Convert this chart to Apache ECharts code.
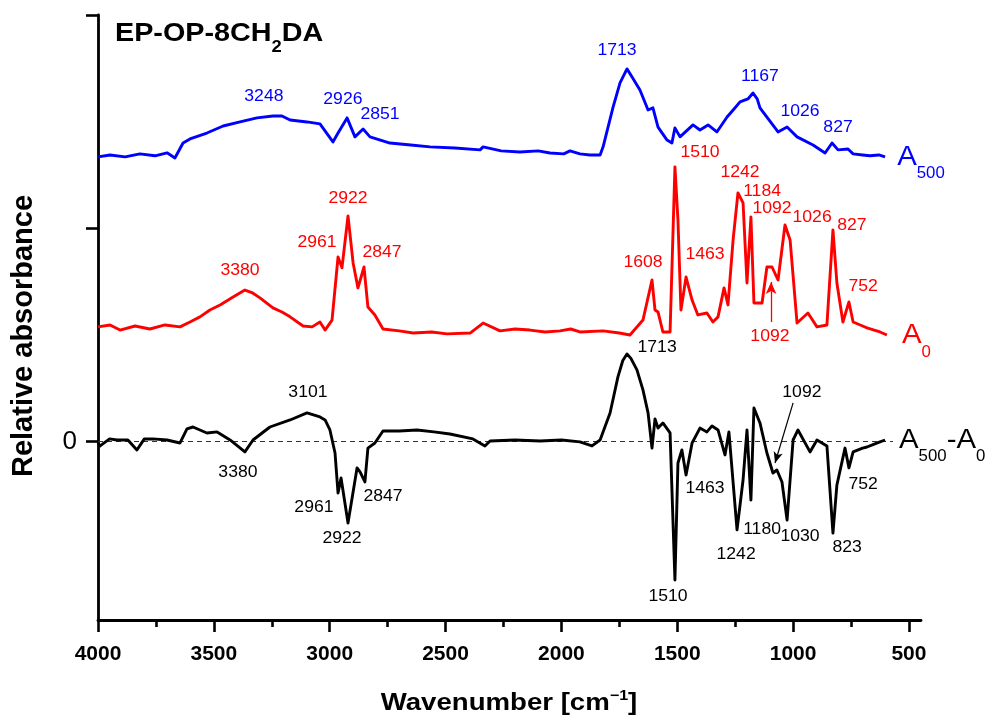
<!DOCTYPE html>
<html>
<head>
<meta charset="utf-8">
<script src="https://cdn.jsdelivr.net/npm/echarts@6/dist/echarts.min.js"></script>
<style>
  html, body { margin: 0; padding: 0; background: #fff; }
  #chart { width: 988px; height: 717px; }
</style>
</head>
<body>
<div id="chart"></div>
<script>
// ---------------- DATA ----------------
const xMajorTicks = [4000, 3500, 3000, 2500, 2000, 1500, 1000, 500];
const xMinorTicks = [3750, 3250, 2750, 2250, 1750, 1250, 750];
const yTicks = [0, 1, 2];
const yLabels = [0];

// A500 (blue)
const wnA500 = [4000,3948,3883,3819,3754,3702,3668,3633,3603,3530,3460,3387,3314,3245,3206,3171,3098,3042,2986,2964,2925,2891,2856,2826,2740,2650,2567,2460,2351,2338,2260,2179,2100,2049,1990,1963,1920,1877,1833,1820,1777,1747,1717,1695,1661,1626,1605,1583,1544,1523,1510,1488,1432,1402,1367,1329,1285,1255,1229,1195,1173,1155,1143,1113,1065,1026,983,914,862,832,806,763,741,700,668,630,603];
const absA500 = [1.336,1.345,1.336,1.350,1.341,1.355,1.331,1.401,1.420,1.448,1.481,1.500,1.519,1.528,1.528,1.509,1.500,1.491,1.406,1.448,1.519,1.430,1.467,1.430,1.401,1.392,1.383,1.378,1.369,1.383,1.364,1.359,1.364,1.354,1.350,1.364,1.350,1.345,1.345,1.383,1.570,1.683,1.749,1.711,1.650,1.556,1.566,1.476,1.415,1.401,1.472,1.430,1.486,1.462,1.486,1.453,1.523,1.561,1.594,1.608,1.636,1.608,1.566,1.523,1.453,1.476,1.430,1.392,1.354,1.401,1.369,1.373,1.350,1.345,1.341,1.345,1.336];

// A0 (red)
const wnA0 = [4000,3948,3905,3840,3776,3711,3646,3603,3560,3517,3473,3417,3366,3336,3301,3245,3206,3171,3115,3076,3042,3020,2990,2964,2947,2921,2899,2878,2852,2835,2805,2770,2700,2640,2560,2494,2394,2338,2265,2200,2136,2070,2006,1960,1920,1820,1750,1704,1648,1609,1596,1583,1562,1531,1510,1497,1484,1462,1436,1411,1372,1346,1324,1298,1281,1259,1238,1216,1199,1182,1169,1134,1113,1091,1065,1035,1013,983,936,897,854,828,811,785,759,741,700,681,650,625,595];
const absA0 = [0.538,0.547,0.523,0.542,0.528,0.547,0.538,0.561,0.585,0.617,0.641,0.678,0.711,0.699,0.674,0.627,0.608,0.585,0.542,0.538,0.561,0.523,0.570,0.866,0.815,1.059,0.838,0.721,0.819,0.631,0.594,0.528,0.519,0.509,0.514,0.505,0.509,0.556,0.519,0.528,0.523,0.514,0.519,0.528,0.514,0.519,0.509,0.500,0.570,0.758,0.617,0.608,0.514,0.514,1.289,1.040,0.617,0.772,0.664,0.594,0.603,0.561,0.585,0.721,0.641,0.946,1.167,1.120,0.744,1.054,0.650,0.650,0.819,0.819,0.758,1.016,0.946,0.556,0.603,0.538,0.547,0.993,0.744,0.561,0.655,0.561,0.542,0.533,0.523,0.514,0.500];

// A500 - A0 (black)
const wnDiff = [4000,3991,3950,3918,3871,3832,3800,3763,3702,3646,3616,3590,3530,3486,3430,3366,3331,3258,3171,3098,3042,3020,2999,2977,2964,2951,2921,2882,2869,2848,2835,2805,2770,2700,2623,2550,2481,2382,2330,2308,2200,2092,2000,1920,1868,1833,1790,1756,1735,1717,1700,1674,1648,1626,1609,1596,1583,1562,1531,1510,1497,1480,1462,1436,1402,1372,1350,1324,1294,1277,1242,1216,1199,1182,1169,1143,1113,1087,1070,1048,1026,1000,979,927,897,854,828,811,776,759,741,700,681,650,625,603];
const absDiff = [-0.007,-0.021,0.012,0.007,0.007,-0.040,0.012,0.012,0.007,-0.007,0.059,0.068,0.040,0.045,0.007,-0.049,0.007,0.068,0.101,0.134,0.115,0.101,0.054,-0.054,-0.242,-0.171,-0.383,-0.124,-0.143,-0.190,-0.031,-0.007,0.049,0.049,0.054,0.045,0.035,0.012,-0.021,0.002,0.007,0.002,0.007,-0.002,-0.021,0.007,0.134,0.303,0.380,0.411,0.390,0.336,0.242,0.134,-0.031,0.106,0.063,0.087,0.040,-0.650,-0.101,-0.040,-0.157,-0.007,0.063,0.045,0.073,0.054,-0.063,0.045,-0.415,-0.181,0.054,-0.275,0.157,0.087,-0.054,-0.148,-0.134,-0.190,-0.369,0.007,0.054,-0.049,0.007,-0.021,-0.430,-0.204,-0.031,-0.124,-0.049,-0.031,-0.026,-0.012,-0.002,0.007];

// Peak annotation texts
const peaksA500 = ['3248','2926','2851','1713','1167','1026','827'];
const peaksA0 = ['3380','2961','2922','2847','1608','1510','1463','1242','1184','1092','1026','827','752','1092'];
const peaksDiff = ['3101','3380','2961','2922','2847','1713','1092','1463','1242','1180','1030','823','752','1510'];

// ---------------- LAYOUT / STYLE ----------------
const FONT = '"Liberation Sans", Arial, Helvetica, sans-serif';
const BLUE = '#0000ff', RED = '#ff0000', BLACK = '#000000';
// annotation anchor points (data coords: wavenumber, value), same order as text arrays
const posA500 = [[3284,1.617],[2943,1.603],[2783,1.533],[1760,1.833],[1143,1.711],[970,1.547],[806,1.472]];
const posA0 = [[3387,0.804],[3055,0.932],[2921,1.138],[2774,0.885],[1648,0.838],[1402,1.354],[1380,0.876],[1229,1.261],[1134,1.171],[1091,1.092],[918,1.049],[746,1.012],[698,0.725],[1100,0.491]];
const posDiff = [[3094,0.228],[3396,-0.148],[3068,-0.312],[2947,-0.458],[2770,-0.261],[1587,0.439],[962,0.228],[1380,-0.223],[1246,-0.533],[1134,-0.415],[970,-0.448],[767,-0.500],[698,-0.204],[1540,-0.730]];

const zip = (a, b) => a.map((v, i) => [v, b[i]]);

const chart = echarts.init(document.getElementById('chart'), null, { renderer: 'canvas' });

const axisLineStyle = { color: BLACK, width: 2.8 };
const LW = 2.9;

const option = {
  animation: false,
  backgroundColor: '#ffffff',
  grid: { left: 98, right: 67, top: 15, bottom: 97, containLabel: false },
  xAxis: [
    {
      type: 'value', inverse: true, min: 448, max: 4000,
      axisLine: { show: true, onZero: false, lineStyle: axisLineStyle },
      axisTick: { show: true, customValues: xMajorTicks, length: 12, lineStyle: { color: BLACK, width: 2.6 } },
      axisLabel: { customValues: xMajorTicks, formatter: v => String(v), fontSize: 21, fontWeight: 'bold', fontFamily: FONT, color: BLACK, margin: 24 },
      splitLine: { show: false }
    },
    {
      type: 'value', inverse: true, min: 448, max: 4000, position: 'bottom',
      axisLine: { show: false, onZero: false },
      axisTick: { show: true, customValues: xMinorTicks, length: 7, lineStyle: { color: BLACK, width: 2.6 } },
      axisLabel: { show: false },
      splitLine: { show: false }
    }
  ],
  yAxis: {
    type: 'value', min: -0.838, max: 2.002,
    axisLine: { show: true, onZero: false, lineStyle: axisLineStyle },
    axisTick: { show: true, customValues: yTicks, length: 12, lineStyle: { color: BLACK, width: 2.6 } },
    axisLabel: { customValues: yLabels, formatter: v => String(v), fontSize: 26, fontFamily: FONT, color: BLACK, margin: 21 },
    splitLine: { show: false }
  },
  series: [
    {
      name: 'A500', type: 'line', data: zip(wnA500, absA500), showSymbol: false, silent: true,
      lineStyle: { color: BLUE, width: LW, join: 'round' }, itemStyle: { color: BLUE }
    },
    {
      name: 'A0', type: 'line', data: zip(wnA0, absA0), showSymbol: false, silent: true,
      lineStyle: { color: RED, width: LW, join: 'round' }, itemStyle: { color: RED },
      markLine: {
        silent: true, animation: false, symbol: ['none', 'arrow'], symbolSize: [8, 12],
        label: { show: false },
        lineStyle: { color: RED, width: 1.3, type: 'solid' },
        data: [[{ coord: [1095, 0.561] }, { coord: [1095, 0.749] }]]
      }
    },
    {
      name: 'A500-A0', type: 'line', data: zip(wnDiff, absDiff), showSymbol: false, silent: true, z: 3,
      lineStyle: { color: BLACK, width: LW, join: 'round' }, itemStyle: { color: BLACK },
      markLine: {
        silent: true, animation: false, z: 1,
        label: { show: false },
        data: [
          [{ coord: [4000, 0], symbol: 'none', lineStyle: { color: '#333', width: 1.2, type: [5, 4] } },
           { coord: [569, 0], symbol: 'none' }],
          [{ coord: [1000, 0.181], symbol: 'none', lineStyle: { color: BLACK, width: 1.2, type: 'solid' } },
           { coord: [1078, -0.101], symbol: 'arrow', symbolSize: [7, 11] }]
        ]
      }
    }
  ]
};

chart.setOption(option);

// ---------------- TEXT ANNOTATIONS ----------------
const ctx = document.createElement('canvas').getContext('2d');
function tw(t, size, weight) {
  ctx.font = (weight || 'normal') + ' ' + size + 'px ' + FONT;
  return ctx.measureText(t).width;
}
function txt(x, y, t, size, weight, color, sx, align, rot) {
  return {
    type: 'text', x: x, y: y, scaleX: sx || 1, rotation: rot || 0, silent: true, z: 100,
    style: { text: t, fontSize: size, fontWeight: weight || 'normal', fontFamily: FONT,
             fill: color, align: align || 'left', verticalAlign: 'middle' }
  };
}
function run(x, y, pieces, color, sx, align) {
  let total = 0;
  pieces.forEach(p => { p.w = tw(p.t, p.size, p.weight) * sx; total += p.w; });
  let cx = align === 'center' ? x - total / 2 : x;
  const out = [];
  pieces.forEach(p => { out.push(txt(cx, y + (p.dy || 0), p.t, p.size, p.weight, color, sx)); cx += p.w; });
  return out;
}
const toPx = (pt) => chart.convertToPixel({ seriesIndex: 0 }, pt);

const g = [];
const ANN_SIZE = 16, ANN_SX = 1.1;
function addAnn(texts, pos, color) {
  texts.forEach((t, i) => {
    const p = toPx(pos[i]);
    g.push(txt(p[0], p[1], t, ANN_SIZE, 'normal', color, ANN_SX, 'center'));
  });
}
addAnn(peaksA500, posA500, BLUE);
addAnn(peaksA0, posA0, RED);
addAnn(peaksDiff, posDiff, BLACK);

// series labels (anchored next to the curve ends)
const lA500 = toPx([551, 1.336]);
g.push(...run(lA500[0], lA500[1], [{ t: 'A', size: 28 }, { t: '500', size: 16, dy: 17 }], BLUE, 1.05, 'left'));
const lA0 = toPx([530, 0.500]);
g.push(...run(lA0[0], lA0[1], [{ t: 'A', size: 28 }, { t: '0', size: 16, dy: 18 }], RED, 1.05, 'left'));
const lD = toPx([543, 0.007]);
g.push(...run(lD[0], lD[1], [{ t: 'A', size: 28 }, { t: '500', size: 16, dy: 17 }, { t: '-A', size: 28 }, { t: '0', size: 16, dy: 17 }], BLACK, 1.05, 'left'));

// title
g.push(...run(115, 34, [
  { t: 'EP-OP-8CH', size: 25, weight: 'bold' },
  { t: '2', size: 16, weight: 'bold', dy: 13.5 },
  { t: 'DA', size: 25, weight: 'bold' }
], BLACK, 1.15, 'left'));

// x-axis name
g.push(...run(509, 703.5, [
  { t: 'Wavenumber [cm', size: 24, weight: 'bold' },
  { t: '\u22121', size: 14, weight: 'bold', dy: -7 },
  { t: ']', size: 24, weight: 'bold' }
], BLACK, 1.15, 'center'));

// y-axis name
g.push(txt(24, 336, 'Relative absorbance', 29, 'bold', BLACK, 1, 'center', Math.PI / 2));

chart.setOption({ graphic: { elements: g } });
</script>
</body>
</html>
